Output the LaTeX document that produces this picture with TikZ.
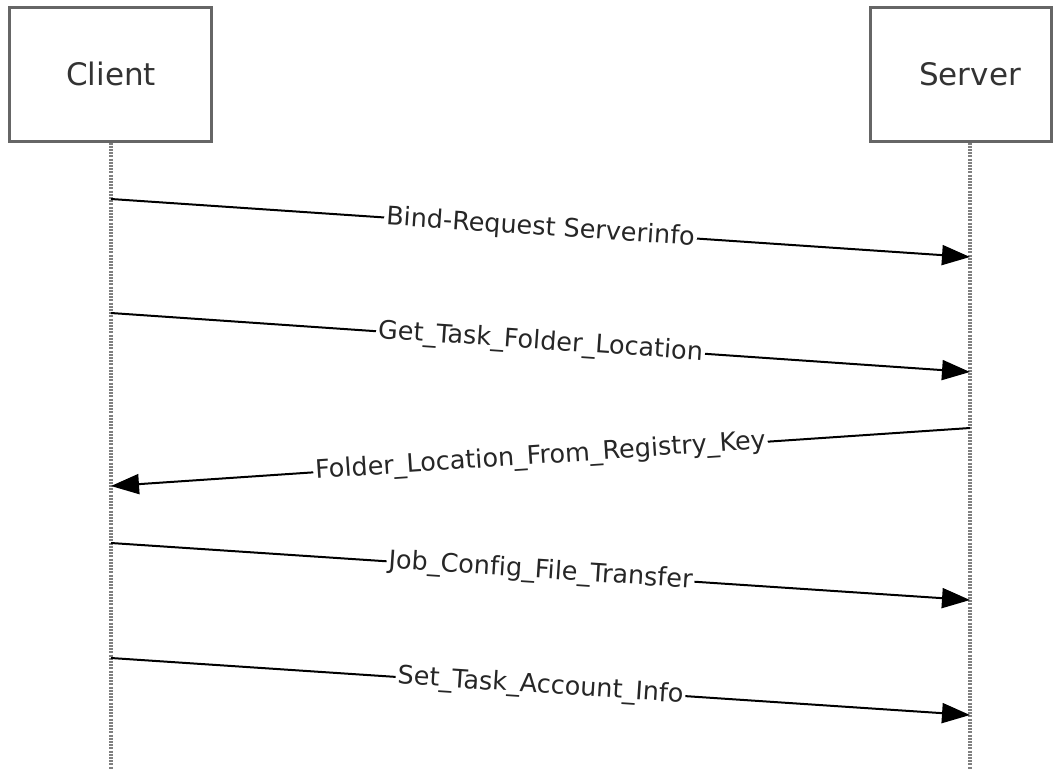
\documentclass[tikz,border=0pt]{standalone}
\usepackage{fontspec}
\setmainfont[Ligatures=NoCommon]{DejaVu Sans}
\usetikzlibrary{arrows.meta}
\begin{document}
\begin{tikzpicture}[x=1pt,y=-1pt,
    actor/.style={draw=black!60,line width=3pt,fill=white,inner sep=0pt},
    lifeline/.style={draw=black!50,line width=3.5pt,dash pattern=on 2pt off 1.2pt},
    msg/.style={draw=black,line width=2pt,-{Triangle[length=28pt,width=20pt]}},
    lbl/.style={fill=white,sloped,inner sep=2pt,font=\fontsize{25.5}{30}\selectfont,text=black!85}]
            \useasboundingbox (0,0) rectangle (1059,769);
            % actors
            \node[actor,minimum width=202pt,minimum height=134pt] (client) at (110,74) {};
            \node[actor,minimum width=181pt,minimum height=134pt] (server) at (960.5,74) {};
            \node[font=\fontsize{31}{36}\selectfont,text=black!80] (clienttxt) at (111,74) {Client};
            \node[font=\fontsize{31}{36}\selectfont,text=black!80] (servertxt) at (970,74) {Server};

            % lifelines
            \coordinate (cend) at (111,769);
            \coordinate (send) at (970,769);
            \path[lifeline] (client.south -| cend) -- (cend);
            \path[lifeline] (servertxt |- server.south) -- (send);

            % messages
            \coordinate (c1) at (111,199); \coordinate (s1) at (970,257);
            \coordinate (c2) at (111,313); \coordinate (s2) at (970,372);
            \coordinate (s3) at (970,428); \coordinate (c3) at (111,486);
            \coordinate (c4) at (111,543); \coordinate (s4) at (970,600);
            \coordinate (c5) at (111,658); \coordinate (s5) at (970,715);
            \path (c1) edge[msg] node[lbl] {Bind-Request Serverinfo} (s1);
            \path (c2) edge[msg] node[lbl] {Get\_Task\_Folder\_Location} (s2);
            \path (s3) edge[msg] node[lbl] {Folder\_Location\_From\_Registry\_Key} (c3);
            \path (c4) edge[msg] node[lbl] {Job\_Config\_File\_Transfer} (s4);
            \path (c5) edge[msg] node[lbl] {Set\_Task\_Account\_Info} (s5);
        \end{tikzpicture}
\end{document}
